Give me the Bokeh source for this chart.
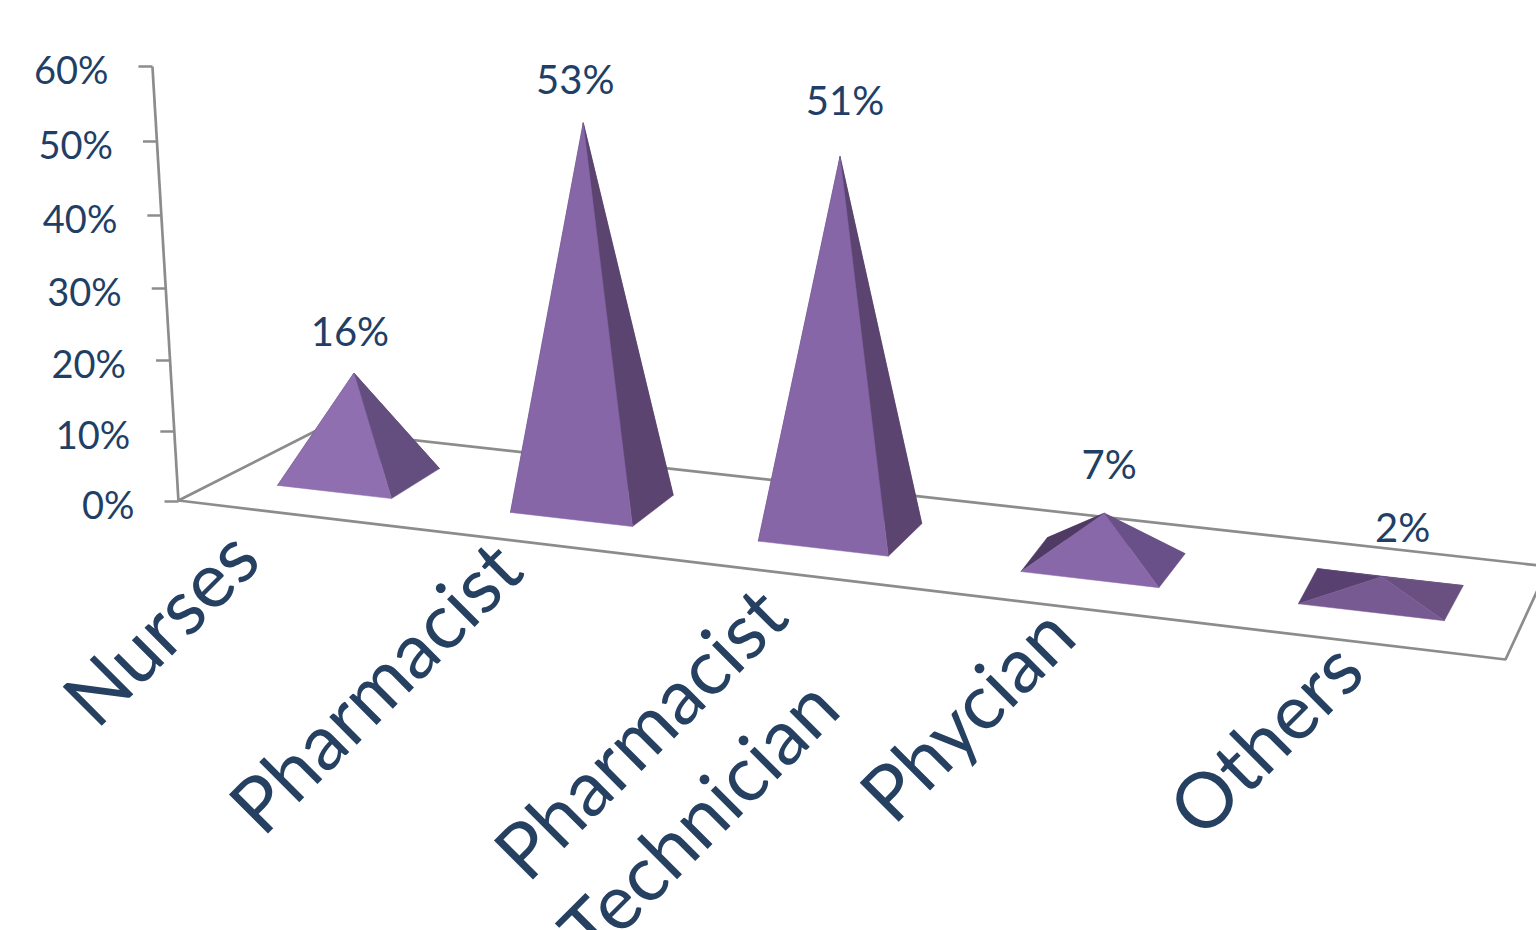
from bokeh.plotting import figure
from bokeh.models import Range1d
from bokeh.core.properties import value
from bokeh.embed import file_html
from bokeh.resources import INLINE
import math

# Survey results by profession
categories = ["Nurses", "Pharmacist", "Pharmacist\nTechnician", "Phycian", "Others"]
shares = [16, 53, 51, 7, 2]
axis_ticks = [0, 10, 20, 30, 40, 50, 60]

# Face colours of each pyramid: back, left, right, front
back_colors = ["#4E3A62", "#4E3A62", "#4E3A62", "#4E3A62", "#584070"]
left_colors = ["#4E3A62", "#4E3A62", "#4E3A62", "#4E3A62", "#584070"]
right_colors = ["#644E80", "#5C4470", "#5C4470", "#6A5088", "#6A5080"]
front_colors = ["#8F6FB0", "#8766A8", "#8766A8", "#8868A8", "#775A92"]

# Projection of the chart box: pixels per percent differs with the distance from the viewer
height_scale = [6.5, 7.19, 7.37, 7.07, 9.0]
label_shift = [(-4, -42), (-8, -44), (5, -57), (5, -49), (21, -50)]
category_anchor = [(242, 542), (505, 553), (770, 599), (1058, 619), (1346, 654)]
line_step = (52, 92)

TEXT = "#1F3F66"
LINE = "#8C8C8C"
FONT = "Lato"


def front_mid(i):
    x = 334 + 237 * i + 7.4 * i * (i - 1)
    return x, 491.5 + 0.116 * (x - 334)


def pyramid(i, share):
    mx, my = front_mid(i)
    half = (114 + 8 * i) / 2
    fl = (mx - half, my - 0.116 * half)
    fr = (mx + half, my + 0.116 * half)
    depth = (48 - 7.25 * i, -30 - 1.3 * i)
    rb = (fr[0] + depth[0], fr[1] + depth[1])
    bl = (fl[0] + depth[0], fl[1] + depth[1])
    cx, cy = (fl[0] + rb[0]) / 2, (fl[1] + rb[1]) / 2
    h = share * height_scale[i]
    apex = (cx + (cx - 840) / 11000 * h, cy - h)
    return fl, fr, rb, bl, apex


def axis_y(pct):
    k = pct / 10
    return 501 - (70 * k + k * (k - 1) / 2)


def axis_x(y):
    return 178 - (501 - y) * 26 / 434


p = figure(width=1536, height=930, x_range=Range1d(0, 1536), y_range=Range1d(930, 0),
           output_backend="svg", toolbar_location=None, min_border=0,
           background_fill_color="white", border_fill_color="white")
p.axis.visible = False
p.grid.visible = False
p.outline_line_color = None

# Floor outline and the value axis
floor_x = [318, 178, 1505, 1548]
floor_y = [429, 500, 659, 566]
p.line(floor_x, floor_y, line_color=LINE, line_width=2.7)
p.line([318, 1548], [429, 566], line_color=LINE, line_width=2.7)
top = axis_y(axis_ticks[-1])
p.line([axis_x(top), 178], [top, 501], line_color=LINE, line_width=2.7)
for t in axis_ticks:
    y = axis_y(t)
    x = axis_x(y)
    p.line([x - 14, x], [y, y], line_color=LINE, line_width=2.7)
    p.text([x - 44], [y + 2], text=[f"{t}%"], text_align="right", text_baseline="middle",
           text_font=value(FONT), text_font_size="38px", text_color=TEXT)

# Pyramids, painted from the far faces to the near ones
for i, share in enumerate(shares):
    fl, fr, rb, bl, apex = pyramid(i, share)
    faces = [((bl, rb, apex), back_colors[i]), ((fl, bl, apex), left_colors[i]),
             ((fr, rb, apex), right_colors[i]), ((fl, fr, apex), front_colors[i])]
    for pts, color in faces:
        p.patch([q[0] for q in pts], [q[1] for q in pts], fill_color=color, line_color=color, line_width=0.5)
    dx, dy = label_shift[i]
    p.text([apex[0] + dx], [apex[1] + dy], text=[f"{share}%"], text_align="center", text_baseline="middle",
           text_font=value(FONT), text_font_size="40px", text_color=TEXT)

# Slanted category names, one text per line
for name, (ax, ay) in zip(categories, category_anchor):
    for n, line in enumerate(name.split("\n")):
        p.text([ax + n * line_step[0]], [ay + n * line_step[1]], text=[line], text_align="right",
               text_baseline="middle", angle=math.pi / 4, text_font=value(FONT),
               text_font_size="77px", text_color="#254061")

open("out.html", "w").write(file_html(p, INLINE))
